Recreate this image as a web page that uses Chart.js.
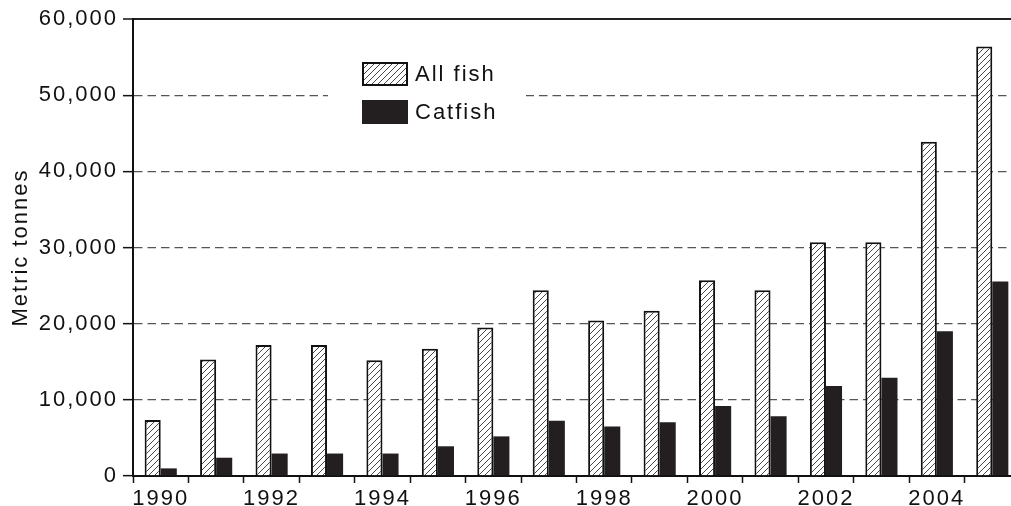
<!DOCTYPE html>
<html>
<head>
<meta charset="utf-8">
<script src="https://cdn.jsdelivr.net/npm/chart.js@4.4.1/dist/chart.umd.min.js"></script>
<style>
    html, body { margin: 0; padding: 0; background: #fff; overflow: hidden; }
    #contenedor { position: relative; width: 1020px; height: 506px; }
</style>
</head>
<body>
<div id="contenedor"><canvas id="grafico"></canvas></div>
<script>
// Datos
const anios = ['1990', '1991', '1992', '1993', '1994', '1995', '1996', '1997',
               '1998', '1999', '2000', '2001', '2002', '2003', '2004', '2005'];
const todosPeces = [7350, 15300, 17200, 17200, 15200, 16700, 19500, 24400,
                    20400, 21700, 25700, 24400, 30700, 30700, 43900, 56400];
const bagre = [1000, 2400, 2950, 2950, 2950, 3900, 5200, 7250,
               6500, 7050, 9200, 7850, 11800, 12900, 19000, 25550];
const marcasY = [0, 10000, 20000, 30000, 40000, 50000, 60000];

const FUENTE = { family: 'Arial, "Liberation Sans", sans-serif', size: 22 };
const ESPACIADO = '2px';

// Trama de rayas diagonales para "All fish"
function crearTrama() {
    const c = document.createElement('canvas');
    c.width = 6;
    c.height = 6;
    const g = c.getContext('2d');
    g.fillStyle = '#fff';
    g.fillRect(0, 0, 6, 6);
    g.strokeStyle = '#333';
    g.lineWidth = 0.9;
    g.beginPath();
    g.moveTo(-1, 7); g.lineTo(7, -1);
    g.moveTo(-4, 4); g.lineTo(4, -4);
    g.moveTo(2, 10); g.lineTo(10, 2);
    g.stroke();
    return g.createPattern(c, 'repeat');
}
const trama = crearTrama();

// Espaciado de letras en todo el texto del canvas
const espaciado = {
    id: 'espaciado',
    beforeLayout(chart) { chart.ctx.letterSpacing = ESPACIADO; },
    beforeDraw(chart) { chart.ctx.letterSpacing = ESPACIADO; }
};

// Leyenda dentro del área del gráfico
const leyenda = {
    id: 'leyenda',
    afterDatasetsDraw(chart, args, opts) {
        const ctx = chart.ctx;
        ctx.save();
        ctx.letterSpacing = ESPACIADO;
        ctx.fillStyle = '#fff';
        ctx.fillRect(opts.fondo.x, opts.fondo.y, opts.fondo.w, opts.fondo.h);
        chart.data.datasets.forEach((ds, i) => {
            const y = opts.y + i * opts.paso;
            ctx.fillStyle = ds.backgroundColor;
            ctx.fillRect(opts.x, y, opts.ancho, opts.alto);
            if (ds.borderWidth) {
                ctx.strokeStyle = ds.borderColor;
                ctx.lineWidth = ds.borderWidth;
                ctx.strokeRect(opts.x + 1, y + 1, opts.ancho - 2, opts.alto - 2);
            }
            ctx.fillStyle = '#111';
            ctx.font = `${FUENTE.size}px ${FUENTE.family}`;
            ctx.textBaseline = 'middle';
            ctx.textAlign = 'left';
            ctx.fillText(ds.label, opts.x + opts.ancho + 7, y + opts.alto / 2 + 1);
        });
        ctx.restore();
    }
};

const esTope = c => c.tick && c.tick.value === 60000;

const ctx = document.getElementById('grafico').getContext('2d');

window.chartInstance = new Chart(ctx, {
    type: 'bar',
    data: {
        labels: anios,
        datasets: [{
            label: 'All fish',
            data: todosPeces,
            backgroundColor: trama,
            borderColor: '#111',
            borderWidth: 2,
            borderSkipped: 'start'
        }, {
            label: 'Catfish',
            data: bagre,
            backgroundColor: '#231f20',
            borderWidth: 0
        }]
    },
    options: {
        responsive: true,
        maintainAspectRatio: false,
        animation: false,
        events: [],
        layout: { padding: { top: 19, left: 0, right: 0, bottom: 0 } },
        datasets: {
            bar: { categoryPercentage: 0.58, barPercentage: 1 }
        },
        plugins: {
            legend: { display: false },
            tooltip: { enabled: false },
            leyenda: {
                x: 362, y: 62, paso: 38, ancho: 46, alto: 24,
                fondo: { x: 328, y: 52, w: 198, h: 84 }
            }
        },
        scales: {
            x: {
                offset: true,
                grid: {
                    offset: true,
                    drawOnChartArea: false,
                    drawTicks: true,
                    tickLength: 7,
                    tickColor: '#111',
                    tickWidth: 1.5
                },
                border: { color: '#111', width: 2 },
                ticks: {
                    autoSkip: false,
                    maxRotation: 0,
                    padding: 3,
                    color: '#111',
                    font: FUENTE,
                    callback: function (val, i) {
                        const a = anios[i];
                        return Number(a) % 2 === 0 ? a : '';
                    }
                },
                afterFit(scale) { scale.height = 30; }
            },
            y: {
                min: 0,
                max: 60000,
                afterBuildTicks(scale) {
                    scale.ticks = marcasY.map(v => ({ value: v }));
                },
                afterFit(scale) { scale.width = 133; },
                grid: {
                    color: c => esTope(c) ? '#222' : '#555',
                    lineWidth: c => esTope(c) ? 2 : 1.3,
                    tickLength: 10,
                    tickColor: '#111',
                    tickWidth: 1.5,
                    tickBorderDash: []
                },
                border: {
                    color: '#111',
                    width: 2,
                    dash: c => (c.tick && !esTope(c)) ? [8.5, 5] : []
                },
                ticks: {
                    padding: 5,
                    color: '#111',
                    font: FUENTE,
                    callback: v => v.toLocaleString('en-US')
                },
                title: {
                    display: true,
                    text: 'Metric tonnes',
                    color: '#111',
                    font: FUENTE,
                    padding: { top: 8, bottom: 0 }
                }
            }
        }
    },
    plugins: [espaciado, leyenda]
});
</script>
</body>
</html>
